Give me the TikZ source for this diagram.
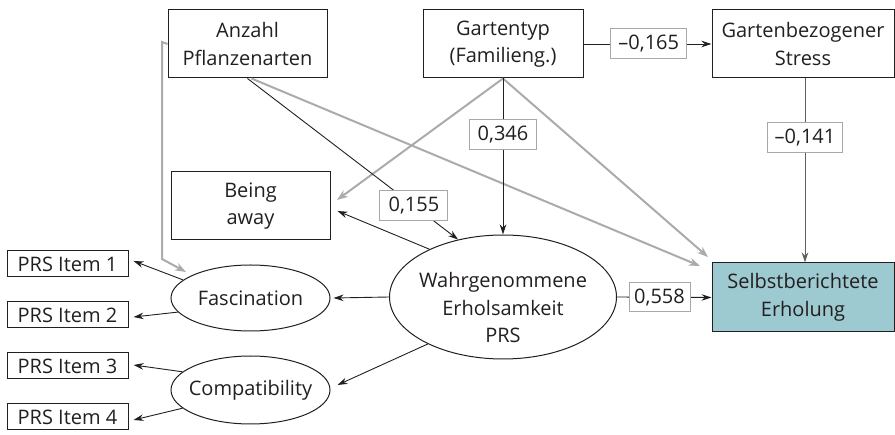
\documentclass[tikz,border=0pt]{standalone}
\usepackage{fontspec}
\setmainfont{Open Sans}
\usetikzlibrary{arrows.meta,shapes.geometric}
\definecolor{txt}{HTML}{231F20}
\definecolor{lgray}{HTML}{ABABAB}
\definecolor{lbord}{HTML}{A8A8A8}
\definecolor{teal}{HTML}{9DCAD0}
\definecolor{dgray}{HTML}{606060}
\begin{document}
\begin{tikzpicture}[x=1pt,y=-1pt,
  font=\fontsize{20}{27.5}\selectfont, text=txt,
  box/.style={draw=txt, line width=1pt, minimum width=#1, minimum height=68pt, align=center, inner sep=0pt},
  item/.style={draw=txt, line width=1pt, minimum width=121pt, minimum height=26pt, inner sep=0pt},
  ell/.style={ellipse, draw=txt, line width=1pt, align=center, inner sep=-20pt},
  lab/.style={draw=lbord, line width=1pt, fill=white, inner sep=0pt, minimum height=30pt, minimum width=#1},
  arr/.style={draw=txt, line width=0.9pt, -{Stealth[length=10pt,width=6.5pt]}},
  garr/.style={draw=lgray, line width=2pt, -{Stealth[length=11pt,width=8pt]}},
  plain/.style={align=center, inner sep=0pt},
]
\useasboundingbox (0,0) rectangle (895,435);

\node[box=159pt] (anz) at (247.5,44) {Anzahl\\Pflanzenarten};
\node[box=160pt] (gart) at (503,44) {Gartentyp\\(Familieng.)};
\node[box=182pt] (stress) at (803,44) {Gartenbezogener\\Stress};
\node[box=159pt] (being) at (250.5,206) {Being\\away};
\node[ell, minimum width=159pt, minimum height=66pt] (fasc) at (250.5,298) {Fascination};
\node[ell, minimum width=159pt, minimum height=68pt] (comp) at (250.5,390) {Compatibility};
\node[ell, minimum width=227pt, minimum height=124pt] (wahr) at (503,297) {};
\node[plain] (wahrtext) at (503,308) {Wahrgenommene\\Erholsamkeit\\PRS};
\node[box=182pt, fill=teal, minimum height=69pt] (selbst) at (803,297.5) {Selbstberichtete\\Erholung};
\node[item] (i1) at (67.5,264) {PRS Item 1};
\node[item] (i2) at (67.5,315) {PRS Item 2};
\node[item] (i3) at (67.5,366) {PRS Item 3};
\node[item] (i4) at (67.5,417) {PRS Item 4};

\coordinate (s1) at (700,266);
\coordinate (s2) at (708,257);
\coordinate (b1) at (337,200);
\coordinate (fa1) at (162,42);
\coordinate (fa2) at (162,259);
\coordinate (fa3) at (186,272);

% gray paths
\draw[garr] (anz.west) -- (fa1) -- (fa2) -- (fa3);
\draw[garr] ([xshift=4pt]anz.south) -- (s1);
\draw[garr] (gart.south) -- (b1);
\draw[garr] (gart.south) -- (s2);

% black paths
\draw[arr] (gart.east) -- node[lab=76pt, pos=0.51] {–0,165} (stress.west);
\draw[arr] (gart.south) -- node[lab=67pt, pos=0.36] {0,346} (wahr.north);
\draw[arr, draw=dgray] ([xshift=2pt]stress.south) -- node[lab=75pt, pos=0.32] {–0,141} ([xshift=2pt]selbst.north);
\draw[arr] (anz.south) -- node[lab=68pt, pos=0.79] {0,155} (wahr.128);
\draw[arr] (wahr.east) -- node[lab=61pt, minimum height=29pt, pos=0.45] {0,558} (selbst.west);
\draw[arr] (wahr.147) -- ([xshift=7pt,yshift=-5pt]being.east);
\draw[arr] (wahr.west) -- ([xshift=3pt]fasc.east);
\draw[arr] (wahr.212.6) -- ([xshift=7pt,yshift=5pt]comp.east);
\draw[arr] (fasc.165.7) -- ([xshift=5pt,yshift=3pt]i1.east);
\draw[arr] (fasc.191) -- ([xshift=5pt,yshift=-2pt]i2.east);
\draw[arr] (comp.165) -- ([xshift=5pt,yshift=1pt]i3.east);
\draw[arr] (comp.195) -- ([xshift=5pt,yshift=-3pt]i4.east);
\end{tikzpicture}
\end{document}
